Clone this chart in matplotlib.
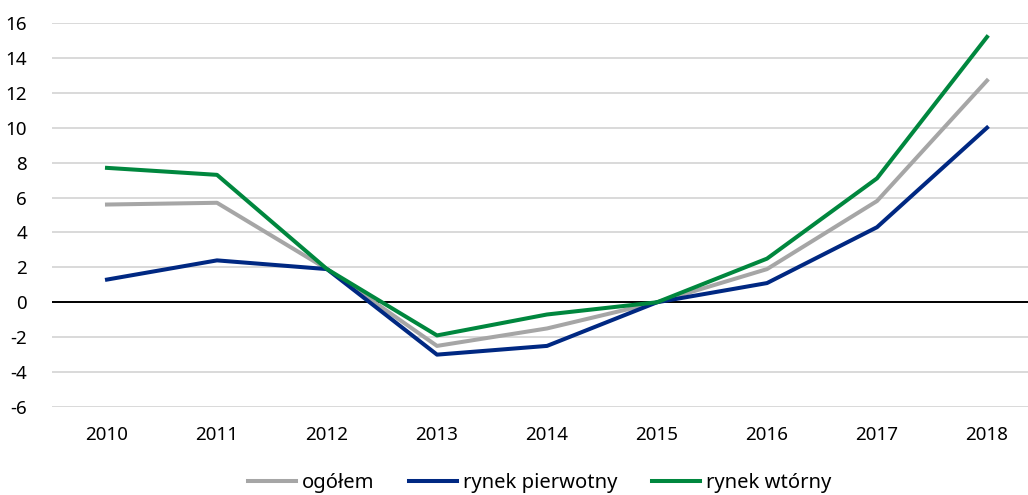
import matplotlib
matplotlib.use("Agg")

import matplotlib.pyplot as plt
import numpy as np

years = ["2010", "2011", "2012", "2013", "2014", "2015", "2016", "2017", "2018"]
ogolem = [5.6, 5.7, 1.9, -2.5, -1.5, 0.0, 1.9, 5.8, 12.7]
pierwotny = [1.3, 2.4, 1.9, -3.0, -2.5, 0.0, 1.1, 4.3, 10.0]
wtorny = [7.7, 7.3, 1.9, -1.9, -0.7, 0.0, 2.5, 7.1, 15.2]
yticks = [-6, -4, -2, 0, 2, 4, 6, 8, 10, 12, 14, 16]

plt.rcParams["font.family"] = ["Noto Sans", "DejaVu Sans"]

W, H = 1028, 495
fig = plt.figure(figsize=(W / 100, H / 100), dpi=100)
ax = fig.add_axes([52 / W, 1 - 407 / H, 1 - 52 / W, (407 - 23) / H])

x = np.arange(len(years))
lw = 2.9
ax.plot(x, ogolem, color="#A6A6A6", lw=lw, label="ogółem", zorder=3)
ax.plot(x, pierwotny, color="#002882", lw=lw, label="rynek pierwotny", zorder=4)
ax.plot(x, wtorny, color="#00873E", lw=lw, label="rynek wtórny", zorder=5)

ax.axhline(0, color="black", lw=1.4, zorder=2)
ax.set_ylim(-6, 16)
ax.set_yticks(yticks)
ax.set_yticklabels([str(v) for v in yticks])
ax.set_xticks(x)
ax.set_xticklabels(years)
ax.set_xlim(-0.5, 8.5 - 14 / 110)
ax.grid(axis="y", color="#D9D9D9", lw=1.4, zorder=0)
ax.set_axisbelow(True)
for s in ax.spines.values():
    s.set_visible(False)
ax.tick_params(axis="both", length=0, labelsize=13.5, colors="black")
ax.tick_params(axis="y", pad=18)
ax.tick_params(axis="x", pad=14)

fig.legend(loc="center", bbox_to_anchor=(0.525, 1 - 483 / H), ncol=3,
           frameon=False, fontsize=14.5, handlelength=2.4, handletextpad=0.3,
           columnspacing=1.7)

fig.savefig("out.png", dpi=100)
